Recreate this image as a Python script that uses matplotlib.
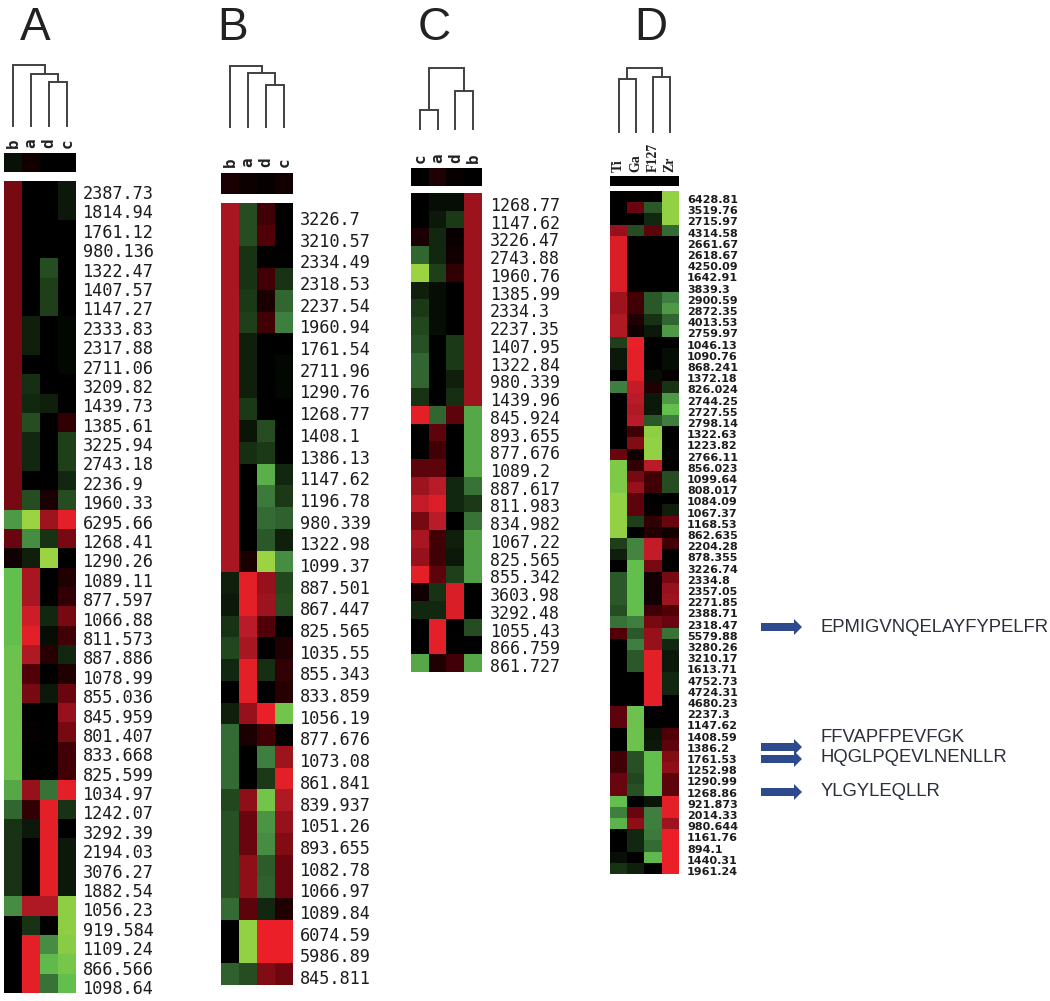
import numpy as np
import matplotlib
matplotlib.use("Agg")
import matplotlib.pyplot as plt
from matplotlib.colors import LinearSegmentedColormap
from matplotlib.patches import FancyArrow

# log ratios, -1 = light green, 0 = black, 1 = bright red
cols_a = ["b", "a", "d", "c"]
head_a = [-0.07, 0.06, 0, 0]
mz_a = ["2387.73", "1814.94", "1761.12", "980.136", "1322.47", "1407.57", "1147.27", "2333.83", "2317.88",
        "2711.06", "3209.82", "1439.73", "1385.61", "3225.94", "2743.18", "2236.9", "1960.33", "6295.66",
        "1268.41", "1290.26", "1089.11", "877.597", "1066.88", "811.573", "887.886", "1078.99", "855.036",
        "845.959", "801.407", "833.668", "825.599", "1034.97", "1242.07", "3292.39", "2194.03", "3076.27",
        "1882.54", "1056.23", "919.584", "1109.24", "866.566", "1098.64"]
vals_a = [
    [.4, 0, 0, -.1], [.4, 0, 0, -.1], [.4, 0, 0, 0], [.4, 0, 0, 0], [.4, 0, -.3, 0], [.4, 0, -.25, 0],
    [.4, 0, -.25, 0], [.4, -.12, 0, -.03], [.4, -.12, 0, -.03], [.4, 0, 0, -.03], [.4, -.18, 0, 0],
    [.4, -.15, -.12, 0], [.4, -.3, 0, .15], [.4, -.15, 0, -.25], [.4, -.15, 0, -.25], [.4, 0, 0, -.15],
    [.4, -.3, .08, -.3], [-.6, -.95, .6, .95], [.35, -.55, -.2, .4], [.05, -.12, -.95, 0],
    [-.75, .65, 0, .1], [-.75, .65, 0, .15], [-.75, .85, -.15, .4], [-.75, .95, -.05, .2],
    [-.78, .7, .12, -.15], [-.78, .25, 0, .1], [-.78, .4, -.1, .35], [-.78, 0, 0, .55], [-.78, .02, 0, .4],
    [-.78, 0, 0, .2], [-.78, 0, 0, .2], [-.65, .55, -.45, .95], [-.4, .15, .95, -.2], [-.2, -.1, .95, 0],
    [-.2, 0, .95, -.1], [-.2, 0, .95, -.1], [-.2, 0, .95, -.1], [-.55, .7, .7, -.9], [0, -.2, 0, -.9],
    [0, .95, -.55, -.88], [0, .95, -.72, -.82], [0, .95, -.45, -.75],
]

cols_b = ["b", "a", "d", "c"]
head_b = [.08, .04, .02, .06]
mz_b = ["3226.7", "3210.57", "2334.49", "2318.53", "2237.54", "1960.94", "1761.54", "2711.96", "1290.76",
        "1268.77", "1408.1", "1386.13", "1147.62", "1196.78", "980.339", "1322.98", "1099.37", "887.501",
        "867.447", "825.565", "1035.55", "855.343", "833.859", "1056.19", "877.676", "1073.08", "861.841",
        "839.937", "1051.26", "893.655", "1082.78", "1066.97", "1089.84", "6074.59", "5986.89", "845.811"]
vals_b = [
    [.65, -.3, .2, 0], [.65, -.3, .25, 0], [.65, -.2, 0, 0], [.65, -.2, .2, -.2], [.65, -.22, .08, -.4],
    [.65, -.25, .2, -.5], [.65, -.12, 0, 0], [.65, -.12, 0, -.03], [.65, -.12, 0, -.03], [.65, -.22, 0, 0],
    [.65, -.08, -.3, 0], [.65, -.18, -.22, 0], [.65, 0, -.68, -.15], [.65, 0, -.48, -.22],
    [.65, 0, -.42, -.38], [.65, 0, -.35, -.12], [.65, .08, -.95, -.55], [-.12, .95, .55, -.28],
    [-.1, .95, .6, -.3], [-.2, .75, .25, 0], [-.28, .65, 0, .1], [-.15, .95, -.18, .15], [0, .95, 0, .12],
    [-.12, .55, .98, -.8], [-.42, .08, .2, 0], [-.42, 0, -.5, .6], [-.42, 0, -.22, .95], [-.28, .5, -.8, .7],
    [-.32, .35, -.58, .55], [-.32, .35, -.55, .45], [-.32, .5, -.36, .35], [-.32, .5, -.38, .35],
    [-.42, .3, -.15, .1], [0, -.92, .98, .98], [0, -.92, .98, .98], [-.38, -.3, .45, .38],
]

cols_c = ["c", "a", "d", "b"]
head_c = [0, .1, .02, 0]
mz_c = ["1268.77", "1147.62", "3226.47", "2743.88", "1960.76", "1385.99", "2334.3", "2237.35", "1407.95",
        "1322.84", "980.339", "1439.96", "845.924", "893.655", "877.676", "1089.2", "887.617", "811.983",
        "834.982", "1067.22", "825.565", "855.342", "3603.98", "3292.48", "1055.43", "866.759", "861.727"]
vals_c = [
    [0, -.05, -.05, .58], [0, -.1, -.22, .58], [.08, -.15, .03, .58], [-.4, -.15, .05, .58],
    [-.95, -.25, .15, .58], [-.12, -.05, 0, .58], [-.22, -.05, 0, .58], [-.28, -.05, 0, .58],
    [-.32, 0, -.22, .58], [-.4, 0, -.22, .58], [-.4, 0, -.12, .58], [-.2, 0, -.18, .58],
    [.95, -.4, .3, -.65], [0, .3, 0, -.65], [0, .2, 0, -.65], [.3, .3, 0, -.65], [.6, .75, -.15, -.45],
    [.8, .92, -.15, -.22], [.4, .75, 0, -.45], [.65, .2, -.12, -.62], [.55, .2, -.1, -.62],
    [.95, .3, -.25, -.62], [.05, -.2, .9, 0], [-.15, -.15, .9, 0], [0, .95, 0, -.3], [0, .95, 0, 0],
    [-.65, .1, .2, -.65],
]

cols_d = ["Ti", "Ga", "F127", "Zr"]
head_d = [0, 0, 0, 0]
mz_d = ["6428.81", "3519.76", "2715.97", "4314.58", "2661.67", "2618.67", "4250.09", "1642.91", "3839.3",
        "2900.59", "2872.35", "4013.53", "2759.97", "1046.13", "1090.76", "868.241", "1372.18", "826.024",
        "2744.25", "2727.55", "2798.14", "1322.63", "1223.82", "2766.11", "856.023", "1099.64", "808.017",
        "1084.09", "1067.37", "1168.53", "862.635", "2204.28", "878.355", "3226.74", "2334.8", "2357.05",
        "2271.85", "2388.71", "2318.47", "5579.88", "3280.26", "3210.17", "1613.71", "4752.73", "4724.31",
        "4680.23", "2237.3", "1147.62", "1408.59", "1386.2", "1761.53", "1252.98", "1290.99", "1268.86",
        "921.873", "2014.33", "980.644", "1161.76", "894.1", "1440.31", "1961.24"]
vals_d = [
    [0, 0, 0, -.92], [0, .35, -.35, -.92], [0, 0, -.15, -.92], [.55, -.3, .3, -.42], [.9, 0, 0, 0],
    [.9, 0, 0, 0], [.9, 0, 0, 0], [.9, 0, 0, 0], [.9, 0, 0, 0], [.6, .2, -.35, -.5], [.6, .2, -.35, -.6],
    [.7, .1, -.2, -.4], [.7, .05, -.1, -.6], [-.25, .98, 0, 0], [-.1, .95, 0, -.05], [-.1, .95, 0, -.05],
    [0, .95, -.05, .02], [-.5, .8, .1, -.2], [0, .75, -.1, -.6], [0, .7, -.1, -.75], [0, .75, -.35, -.5],
    [0, .2, -.9, 0], [0, .45, -.92, 0], [.35, .05, -.92, -.02], [-.85, .15, .75, 0], [-.85, .4, .2, -.3],
    [-.85, .55, .2, -.3], [-.92, .3, 0, 0], [-.92, .3, .02, -.12], [-.92, -.25, .15, .35], [-.92, 0, .1, .05],
    [-.25, -.52, .8, .2], [-.12, -.52, .8, 0], [0, -.75, .4, 0], [-.35, -.75, .05, .4], [-.35, -.75, .05, .55],
    [-.35, -.75, .05, .6], [-.3, -.75, .2, .25], [-.45, -.5, .4, .35], [.25, -.35, .55, -.45],
    [0, -.5, .55, -.15], [0, -.35, .95, -.1], [0, -.35, .95, -.1], [0, 0, .95, -.15], [0, 0, .95, -.15],
    [0, 0, .95, 0], [.3, -.78, 0, 0], [.3, -.78, 0, 0], [0, -.78, -.08, .25], [0, -.78, -.1, .3],
    [.2, -.32, -.75, .45], [.2, -.32, -.75, .5], [.35, -.28, -.75, .3], [.35, -.32, -.75, .3],
    [-.75, 0, -.08, .95], [-.5, .35, -.5, .95], [-.7, .5, -.5, .6], [0, -.15, -.48, .98], [0, -.15, -.42, .98],
    [-.06, 0, -.72, .98], [-.2, -.12, 0, .98],
]

peptides = ["EPMIGVNQELAYFYPELFR", "FFVAPFPEVFGK", "HQGLPQEVLNENLLR", "YLGYLEQLLR"]

cmap = LinearSegmentedColormap.from_list("redgreen", [
    (0.0, "#a8d840"), (0.125, "#64c04e"), (0.25, "#3f7f3f"), (0.375, "#1f401a"), (0.5, "#000000"),
    (0.625, "#500008"), (0.75, "#8e0f18"), (0.875, "#b81c28"), (1.0, "#ee2028"),
])


def dendro(ax, node, xs, bottom):
    """node is a leaf index or (height, left, right), returns x and y of its top"""
    if not isinstance(node, tuple):
        return xs[node], bottom
    y, left, right = node
    x0, y0 = dendro(ax, left, xs, bottom)
    x1, y1 = dendro(ax, right, xs, bottom)
    ax.plot([x0, x0, x1, x1], [y0, y, y, y1], color="#404040", lw=1.4, solid_joinstyle="miter")
    return (x0 + x1) / 2, y


def panel(ax, vals, head, cols, mz, title, title_x, x0, x1, top, bottom, head_top, head_bot, tree, tree_bot,
          lab_y, text_x, first_y, last_y, size, font, weight):
    ax.imshow(np.array(vals), cmap=cmap, vmin=-1, vmax=1, extent=(x0, x1, bottom, top), aspect="auto",
              interpolation="nearest")
    ax.imshow(np.array([head]), cmap=cmap, vmin=-1, vmax=1, extent=(x0, x1, head_bot, head_top), aspect="auto",
              interpolation="nearest")
    w = (x1 - x0) / len(cols)
    xs = [x0 + w * (i + .5) for i in range(len(cols))]
    dendro(ax, tree, xs, tree_bot)
    for x, c in zip(xs, cols):
        if len(c) > 1:
            ax.text(x, lab_y, c, rotation=90, ha="center", va="bottom", fontsize=10, fontweight="bold",
                    family="Liberation Serif", color="#222222")
        else:
            ax.text(x, lab_y, c, rotation=90, ha="center", va="bottom", fontsize=11.5, fontweight="bold",
                    family="DejaVu Sans Mono", color="#222222")
    step = (last_y - first_y) / (len(mz) - 1)
    for i, m in enumerate(mz):
        ax.text(text_x, first_y + step * i + 1, m, ha="left", va="center", fontsize=size,
                family=font, fontweight=weight, color="#1c1c1c")
    ax.text(title_x, 40, title, ha="center", va="baseline", fontsize=33, family="Liberation Sans", color="#222222")


fig = plt.figure(figsize=(10.5, 10.01), dpi=100)
ax = fig.add_axes([0, 0, 1, 1])

panel(ax, vals_a, head_a, cols_a, mz_a, "A", 35, 4, 76, 181, 993, 153, 172, (65, 0, (74, 1, (82, 2, 3))), 126,
      148, 83, 193, 988, 12.2, "DejaVu Sans Mono", "normal")
panel(ax, vals_b, head_b, cols_b, mz_b, "B", 233, 221, 293, 203, 985, 173, 194, (66, 0, (73, 1, (85, 2, 3))), 127,
      167, 300, 219, 978, 12.2, "DejaVu Sans Mono", "normal")
panel(ax, vals_c, head_c, cols_c, mz_c, "C", 434, 411, 482, 193, 672, 168, 186, (68, (110, 0, 1), (91, 2, 3)), 129,
      163, 490, 205, 666, 12.0, "DejaVu Sans Mono", "normal")
panel(ax, vals_d, head_d, cols_d, mz_d, "D", 651, 610, 679, 191, 874, 176, 186, (68, (79, 0, 1), (77, 2, 3)), 132,
      172, 687, 199, 871, 8.0, "DejaVu Sans", "bold")

# arrows pointing at the identified peptides
arrow_y = [627, 747, 759, 792]
text_y = [627, 737, 758, 791]
for ya, yt, p in zip(arrow_y, text_y, peptides):
    ax.add_patch(FancyArrow(761, ya, 41, 0, width=8, head_width=16, head_length=8, length_includes_head=True,
                            color="#2c4a8c", lw=0))
    ax.text(821, yt, p, ha="left", va="center", fontsize=13.3, family="Liberation Sans", color="#2a2f3a")

ax.set_xlim(0, 1050)
ax.set_ylim(1001, 0)
ax.axis("off")

fig.savefig("out.png", dpi=100)
